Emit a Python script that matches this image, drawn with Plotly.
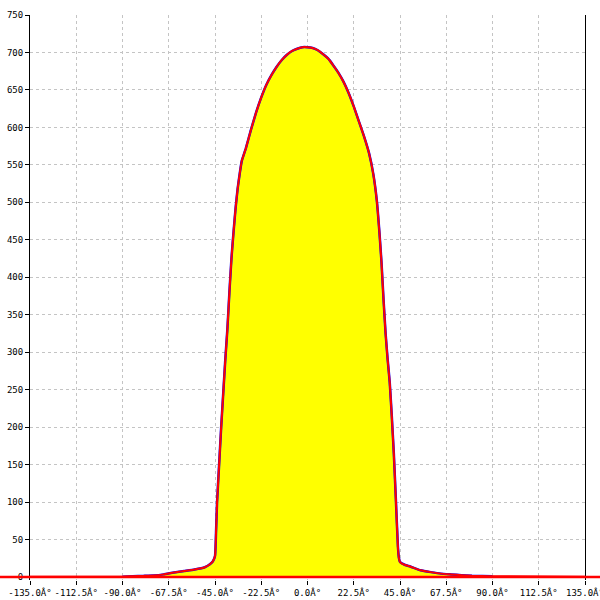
import plotly.graph_objects as go

# Angles (degrees) and intensity readings
angles = [-90, -85, -80, -75, -70, -65, -60, -55, -50, -47.5, -46, -45, -44.5, -44,
          -43, -42, -41, -40, -39, -38, -37, -36, -35, -34, -33, -32, -30, -27.5,
          -25, -22.5, -20, -17.5, -15, -12.5, -10, -7.5, -5, -2.5, 0, 2.5, 5, 7.5,
          10, 12.5, 15, 17.5, 20, 22.5, 25, 27.5, 30, 32, 33.7, 35, 36, 37, 38, 39,
          40, 41, 42, 43, 44, 44.5, 45, 47.5, 50, 55, 60, 65, 70, 75, 80, 85, 90]
intensity = [0.5, 1, 1.5, 2, 3.5, 6, 8, 10, 13, 17, 21, 28, 60, 100,
             150, 200, 245, 290, 330, 380, 425, 460, 492, 518, 538, 555, 572, 597,
             620, 640, 657, 670, 681, 690, 697, 702, 705, 707, 707, 706, 703, 698,
             692, 683, 673, 661, 646, 628, 608, 588, 565, 538, 503, 460, 420, 370, 325, 290,
             260, 215, 165, 103, 40, 25, 20, 16, 14, 9, 6.5, 4.5, 3.5, 2.5, 1.7, 1.3, 1]

# red series extends along zero beyond the measured range
ext_left = [-180]
ext_right = [180]
red_angles = ext_left + angles + ext_right
red_intensity = [0] + intensity + [0]

x_ticks = [-135, -112.5, -90, -67.5, -45, -22.5, 0, 22.5, 45, 67.5, 90, 112.5, 135]
x_tick_labels = ["-135.0Â°", "-112.5Â°", "-90.0Â°", "-67.5Â°", "-45.0Â°", "-22.5Â°",
                 "0.0Â°", "22.5Â°", "45.0Â°", "67.5Â°", "90.0Â°", "112.5Â°", "135.0Â°"]
y_ticks = list(range(0, 751, 50))

fig = go.Figure()
fig.add_trace(go.Scatter(x=angles, y=intensity, mode="lines",
                         line=dict(color="#0000ff", width=2.5, shape="spline", smoothing=0.4),
                         fill="tozeroy", fillcolor="#ffff00", hoverinfo="skip"))
fig.add_trace(go.Scatter(x=red_angles, y=red_intensity, mode="lines",
                         line=dict(color="#ff0000", width=2, shape="spline", smoothing=0.4),
                         hoverinfo="skip"))

# red baseline overhang outside the plot area
fig.add_shape(type="line", xref="paper", yref="y", x0=-30/555, x1=1 + 15/555,
              y0=0, y1=0, line=dict(color="#ff0000", width=2.5), layer="above")

font = dict(family="DejaVu Sans Mono", size=9, color="black")
fig.update_layout(
    width=600, height=600,
    margin=dict(l=30, r=15, t=15, b=20, autoexpand=False),
    paper_bgcolor="white", plot_bgcolor="white",
    showlegend=False,
    font=font,
    xaxis=dict(range=[-135, 135], tickvals=x_ticks, ticktext=x_tick_labels,
               showgrid=True, gridcolor="#c4c4c4", griddash="3px,3px", gridwidth=1,
               ticks="outside", ticklen=4, tickcolor="black", automargin=False,
               ticklabeloverflow="allow",
               showline=False, zeroline=False, tickfont=font),
    yaxis=dict(range=[-4, 750], tickvals=y_ticks,
               showgrid=True, gridcolor="#c4c4c4", griddash="3px,3px", gridwidth=1,
               ticks="outside", ticklen=4, tickcolor="black", automargin=False,
               ticklabeloverflow="allow",
               showline=True, linecolor="black", linewidth=1, mirror=True,
               zeroline=False, tickfont=font),
)

fig.write_html("out.html",
               config={"displayModeBar": False},
               post_script="document.body.style.margin='0px';document.body.style.overflow='hidden';")
